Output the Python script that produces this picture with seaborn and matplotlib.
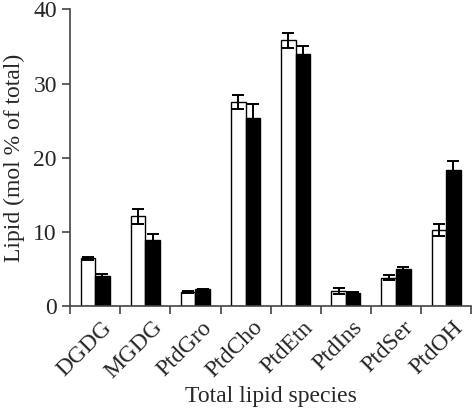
import pandas as pd
import numpy as np
import matplotlib
matplotlib.use("Agg")
import matplotlib.pyplot as plt
import matplotlib.transforms as mtransforms
import seaborn as sns

# lipid classes and the two sample series (mean, error)
species = ["DGDG", "MGDG", "PtdGro", "PtdCho", "PtdEtn", "PtdIns", "PtdSer", "PtdOH"]
control_mean = [6.45, 12.1, 1.9, 27.5, 35.85, 2.07, 3.82, 10.25]
control_err = [0.2, 1.0, 0.15, 1.0, 1.0, 0.4, 0.35, 0.75]
treated_mean = [4.0, 8.95, 2.25, 25.3, 34.0, 1.8, 4.95, 18.4]
treated_err = [0.35, 0.7, 0.05, 2.0, 1.1, 0.1, 0.35, 1.15]
groups = ["Control", "Treated"]

sns.set_style("ticks")
plt.rcParams["font.family"] = ["Liberation Serif", "DejaVu Serif"]

df = pd.DataFrame({
    "species": species * 2,
    "group": [groups[0]] * len(species) + [groups[1]] * len(species),
    "value": control_mean + treated_mean,
})

fig = plt.figure(figsize=(4.74, 4.09), dpi=100)
ax = fig.add_axes([0.148, 0.252, 0.846, 0.725])

sns.barplot(data=df, x="species", y="value", hue="group", order=species,
            hue_order=groups, palette=["white", "black"], edgecolor="black",
            linewidth=1.0, width=0.58, gap=0, errorbar=None, legend=False, ax=ax)

# error bars on top of each bar
for cont, errs in zip(ax.containers, [control_err, treated_err]):
    xs = [p.get_x() + p.get_width() / 2 for p in cont.patches]
    ys = [p.get_height() for p in cont.patches]
    ax.errorbar(xs, ys, yerr=errs, fmt="none", ecolor="black",
                elinewidth=1.4, capsize=4, capthick=1.4)

ax.set_xlim(-0.5, len(species) - 0.5)
ax.set_ylim(0, 40)
ax.set_yticks([0, 10, 20, 30, 40])

# labels at the group centres, tick marks at the group boundaries
ax.set_xticks(np.arange(len(species)))
ax.set_xticklabels(species, rotation=45, ha="right", rotation_mode="anchor")
ax.set_xticks(np.arange(len(species) + 1) - 0.5, minor=True)
ax.tick_params(axis="x", which="major", length=0, labelsize=17, pad=6)
ax.tick_params(axis="x", which="minor", length=6, width=1.2, color="#444444", direction="out")
ax.tick_params(axis="y", length=6, width=1.2, color="#444444", labelsize=17, direction="out")

# nudge rotated labels a little right/down
shift = mtransforms.ScaledTranslation(4.5 / 72, -2 / 72, fig.dpi_scale_trans)
for lbl in ax.get_xticklabels():
    lbl.set_transform(lbl.get_transform() + shift)

for side in ["top", "right"]:
    ax.spines[side].set_visible(False)
for side in ["left", "bottom"]:
    ax.spines[side].set_color("#444444")
    ax.spines[side].set_linewidth(1.2)

ax.set_xlabel("Total lipid species", fontsize=17, labelpad=2)
ax.set_ylabel("Lipid (mol % of total)", fontsize=17, labelpad=6)

fig.savefig("out.png", dpi=100)
